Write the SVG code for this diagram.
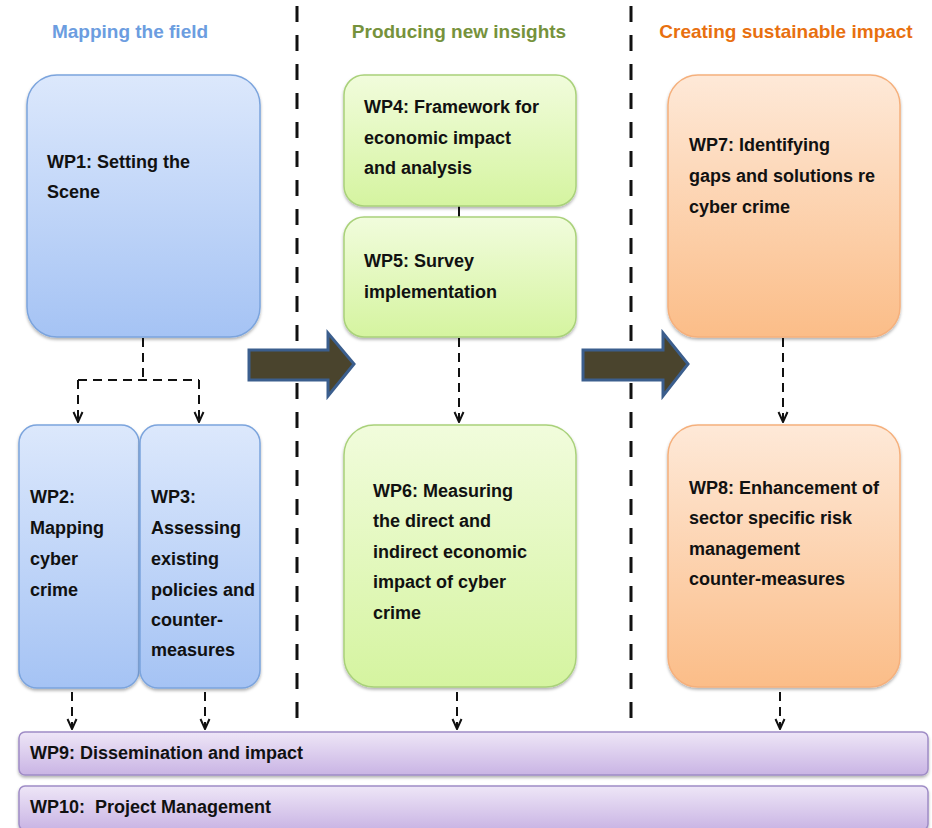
<svg xmlns="http://www.w3.org/2000/svg" width="932" height="828" viewBox="0 0 932 828">
<style>
.t{font-family:"Liberation Sans",Arial,sans-serif;font-weight:bold;font-size:18px;fill:#111}
.h{font-family:"Liberation Sans",Arial,sans-serif;font-weight:bold;font-size:19px;text-anchor:middle}
.sep{stroke:#111;stroke-width:3;stroke-dasharray:16 13;fill:none}
.con{stroke:#111;stroke-width:2;stroke-dasharray:9 6;fill:none}
.blue{fill:url(#gb);stroke:#7ba4dd;stroke-width:1.5;filter:url(#sh)}
.green{fill:url(#gg);stroke:#a9d17a;stroke-width:1.5;filter:url(#sh)}
.orange{fill:url(#go);stroke:#f5b07c;stroke-width:1.5;filter:url(#sh)}
.purple{fill:url(#gp);stroke:#9f8cc6;stroke-width:1.5;filter:url(#sh)}
.fat{fill:#4a442d;stroke:#3b5e8d;stroke-width:3}
</style>
<defs>
<linearGradient id="gb" x1="0" y1="0" x2="0" y2="1"><stop offset="0" stop-color="#dce8fc"/><stop offset="1" stop-color="#a5c3f4"/></linearGradient>
<linearGradient id="gg" x1="0" y1="0" x2="0" y2="1"><stop offset="0" stop-color="#f1fcdc"/><stop offset="1" stop-color="#d5f4a0"/></linearGradient>
<linearGradient id="go" x1="0" y1="0" x2="0" y2="1"><stop offset="0" stop-color="#fee9d8"/><stop offset="1" stop-color="#fbbd88"/></linearGradient>
<linearGradient id="gp" x1="0" y1="0" x2="0" y2="1"><stop offset="0" stop-color="#eee6f7"/><stop offset="1" stop-color="#c9b4e4"/></linearGradient>
<filter id="sh" x="-10%" y="-10%" width="120%" height="130%"><feDropShadow dx="0" dy="2" stdDeviation="1.5" flood-color="#000" flood-opacity="0.3"/></filter>
<marker id="ah" markerUnits="userSpaceOnUse" viewBox="0 0 12 12" refX="11" refY="6" markerWidth="12" markerHeight="12" orient="auto"><path d="M1,1.5 L11,6 L1,10.5" fill="none" stroke="#111" stroke-width="2"/></marker>
</defs>
<rect width="932" height="828" fill="#fff"/>

<g id="headers">
<text class="h" x="130" y="38" fill="#6c9de0">Mapping the field</text>
<text class="h" x="459" y="38" fill="#76923c">Producing new insights</text>
<text class="h" x="786" y="38" fill="#e8700f">Creating sustainable impact</text>
</g>

<g id="separators">
<line class="sep" x1="297" y1="6" x2="297" y2="731"/>
<line class="sep" x1="631" y1="6" x2="631" y2="731"/>
</g>

<g id="connectors">
<path class="con" d="M143,338 V380 M78,380 H199"/>
<path class="con" d="M78,380 V422" marker-end="url(#ah)"/>
<path class="con" d="M199,380 V422" marker-end="url(#ah)"/>
<line x1="459" y1="206" x2="459" y2="217" stroke="#111" stroke-width="2"/>
<path class="con" d="M459,338 V422" marker-end="url(#ah)"/>
<path class="con" d="M783,338 V422" marker-end="url(#ah)"/>
<path class="con" d="M72,692 V729" marker-end="url(#ah)"/>
<path class="con" d="M205,692 V729" marker-end="url(#ah)"/>
<path class="con" d="M457,692 V729" marker-end="url(#ah)"/>
<path class="con" d="M780,692 V729" marker-end="url(#ah)"/>
<path class="fat" d="M249,350 H328 V333 L354,364 L328,396 V380 H249 Z"/>
<path class="fat" d="M583,350 H663 V333 L688,364 L663,396 V380 H583 Z"/>
</g>

<g id="wp1"><rect class="blue" x="27" y="75" width="233" height="262" rx="30"/>
<text class="t" x="47" y="168">WP1: Setting the</text><text class="t" x="47" y="198">Scene</text></g>

<g id="wp2"><rect class="blue" x="19" y="425" width="120" height="263" rx="18"/>
<text class="t" x="30" y="503">WP2:</text><text class="t" x="30" y="534">Mapping</text><text class="t" x="30" y="565">cyber</text><text class="t" x="30" y="596">crime</text></g>

<g id="wp3"><rect class="blue" x="140" y="425" width="120" height="263" rx="18"/>
<text class="t" x="151" y="503">WP3:</text><text class="t" x="151" y="534">Assessing</text><text class="t" x="151" y="565">existing</text><text class="t" x="151" y="596">policies and</text><text class="t" x="151" y="626">counter-</text><text class="t" x="151" y="656">measures</text></g>

<g id="wp4"><rect class="green" x="344" y="75" width="232" height="131" rx="20"/>
<text class="t" x="364" y="113">WP4: Framework for</text><text class="t" x="364" y="144">economic impact</text><text class="t" x="364" y="174">and analysis</text></g>

<g id="wp5"><rect class="green" x="344" y="217" width="232" height="120" rx="20"/>
<text class="t" x="364" y="267">WP5: Survey</text><text class="t" x="364" y="298">implementation</text></g>

<g id="wp6"><rect class="green" x="344" y="425" width="232" height="262" rx="30"/>
<text class="t" x="373" y="497">WP6: Measuring</text><text class="t" x="373" y="527">the direct and</text><text class="t" x="373" y="558">indirect economic</text><text class="t" x="373" y="588">impact of cyber</text><text class="t" x="373" y="619">crime</text></g>

<g id="wp7"><rect class="orange" x="668" y="75" width="232" height="262" rx="30"/>
<text class="t" x="689" y="151">WP7: Identifying</text><text class="t" x="689" y="182">gaps and solutions re</text><text class="t" x="689" y="213">cyber crime</text></g>

<g id="wp8"><rect class="orange" x="668" y="425" width="232" height="262" rx="30"/>
<text class="t" x="689" y="494">WP8: Enhancement of</text><text class="t" x="689" y="524">sector specific risk</text><text class="t" x="689" y="555">management</text><text class="t" x="689" y="585">counter-measures</text></g>

<g id="wp9"><rect class="purple" x="19" y="732" width="909" height="43" rx="6"/>
<text class="t" x="30" y="759">WP9: Dissemination and impact</text></g>

<g id="wp10"><rect class="purple" x="19" y="786" width="909" height="44" rx="6"/>
<text class="t" x="30" y="813" xml:space="preserve">WP10:  Project Management</text></g>
</svg>
